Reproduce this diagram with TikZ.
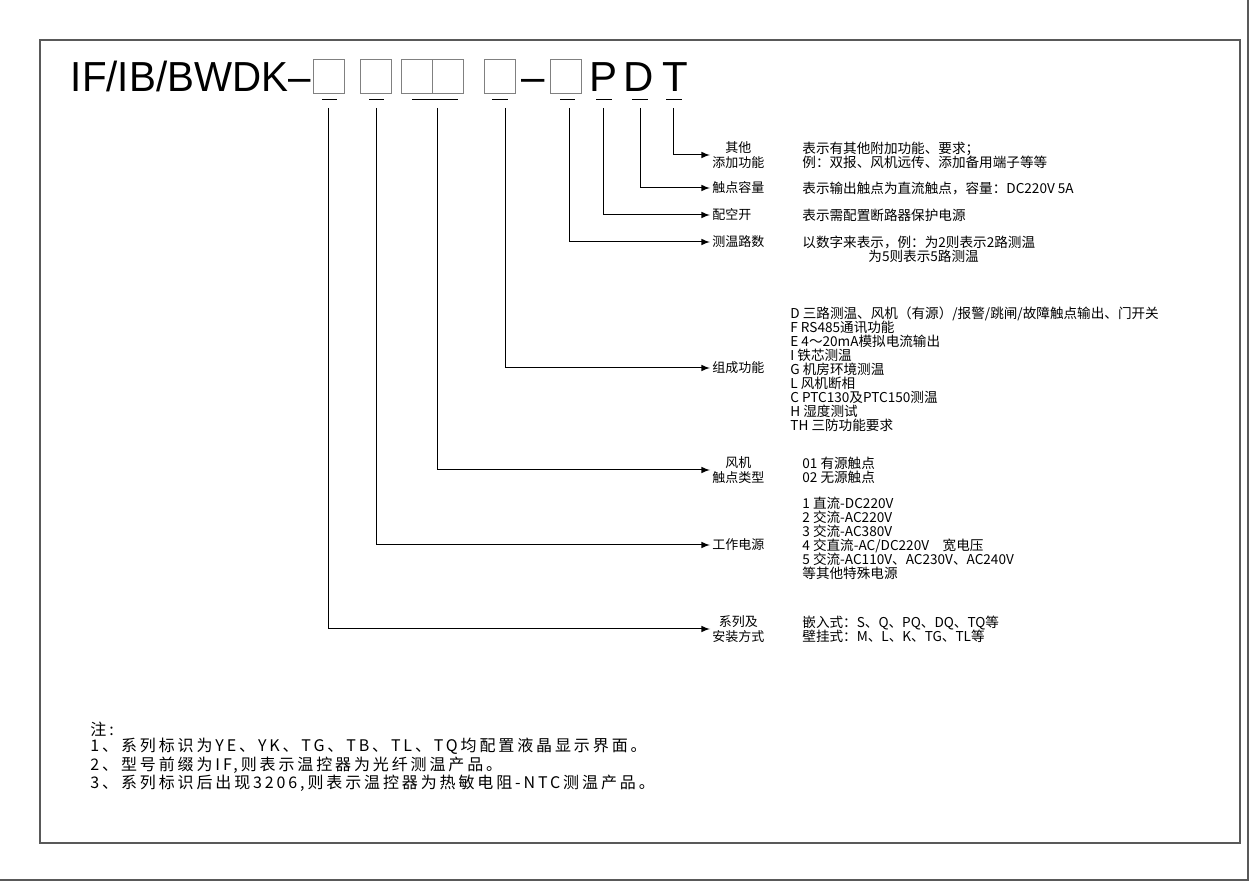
\documentclass[tikz,border=0pt]{standalone}
\usepackage{fontspec}
\setmainfont{Liberation Sans}
\newfontfamily\cjk{Noto Sans CJK SC}
\newfontfamily\cjkwide{Noto Sans CJK SC}[LetterSpace=18]
\usetikzlibrary{arrows,positioning}

\begin{document}
\begin{tikzpicture}[x=0.5pt, y=-0.5pt]
		\tikzstyle{code_box} = [rectangle, draw=gray, line width=0.5pt, minimum width=15.5pt, minimum height=17pt, inner sep=0pt, anchor=north west]
		\tikzstyle{code_char} = [inner sep=0pt, anchor=base, font=\fontsize{21}{21}\selectfont]
		\tikzstyle{field_label} = [anchor=west, inner sep=1pt, align=center, font=\cjk\fontsize{6.5}{7.2}\selectfont]
		\tikzstyle{field_text} = [anchor=west, inner sep=0pt, align=left, font=\cjk\fontsize{6.8}{7}\selectfont]
		\tikzstyle{lead} = [line width=0.5pt]
		\tikzstyle{lead_arrow} = [line width=0.5pt, -latex]
		\useasboundingbox (0,0) rectangle (1254,887);

		% Frame
		\draw[line width=0.6pt, gray!70!black] (40,40) rectangle (1240,843);
		\draw[line width=0.6pt, gray!70!black] (1248,0) -- (1248,880) -- (0,880);

		% Model code
		\node (title) [inner sep=0pt, anchor=base east, font=\fontsize{21}{21}\selectfont] at (311,92) {\scalebox{0.96}[1]{IF/IB/BWDK–}};
		\node (b1) [code_box] at (313,59) {};
		\node (b2) [code_box] at (360,59) {};
		\node (b3) [code_box] at (401,59) {};
		\node (b4) [code_box] at (432,59) {};
		\node (b5) [code_box] at (484,59) {};
		\node (dash) [code_char] at (533,92) {–};
		\node (b6) [code_box] at (550,59) {};
		\node (cP) [code_char] at (604,92) {P};
		\node (cD) [code_char] at (639,92) {D};
		\node (cT) [code_char] at (675,92) {T};

		% Ticks under the fields
		\foreach \a/\b in {322/337, 369/384, 412/458, 492/508, 560/575, 596/612, 632/648, 666/682}
		\draw[lead] (\a,100) -- (\b,100);
		\coordinate (t1) at (328,108);
		\coordinate (t2) at (376,108);
		\coordinate (t3) at (437,108);
		\coordinate (t4) at (505,108);
		\coordinate (t5) at (569,108);
		\coordinate (t6) at (603,108);
		\coordinate (t7) at (640,108);
		\coordinate (t8) at (673,108);

		% Field labels
		\node (lOther) [field_label] at (710,155) {其他\\添加功能};
		\node (lCap) [field_label] at (710,188) {触点容量};
		\node (lBrk) [field_label] at (710,215) {配空开};
		\node (lCh) [field_label] at (710,242) {测温路数};
		\node (lFun) [field_label] at (710,368) {组成功能};
		\node (lFan) [field_label] at (710,470) {风机\\触点类型};
		\node (lPow) [field_label] at (710,545) {工作电源};
		\node (lSer) [field_label] at (710,629) {系列及\\安装方式};

		% Leads
		\draw[lead_arrow] (t8) |- (lOther.west);
		\draw[lead_arrow] (t7) |- (lCap.west);
		\draw[lead_arrow] (t6) |- (lBrk.west);
		\draw[lead_arrow] (t5) |- (lCh.west);
		\draw[lead_arrow] (t4) |- (lFun.west);
		\draw[lead_arrow] (t3) |- (lFan.west);
		\draw[lead_arrow] (t2) |- (lPow.west);
		\draw[lead_arrow] (t1) |- (lSer.west);

		% Descriptions
		\node (dOther) [field_text] at (802,155) {表示有其他附加功能、要求；\\例：双报、风机远传、添加备用端子等等};
		\node (dCap) [field_text] at (802,188) {表示输出触点为直流触点，容量：DC220V 5A};
		\node (dBrk) [field_text] at (802,215) {表示需配置断路器保护电源};
		\node (dCh) [field_text] at (802,249) {以数字来表示，例：为2则表示2路测温\\\hspace*{33pt}为5则表示5路测温};
		\node (dFun) [field_text] at (790,369) {D 三路测温、风机（有源）/报警/跳闸/故障触点输出、门开关\\F RS485通讯功能\\E 4～20mA模拟电流输出\\I 铁芯测温\\G 机房环境测温\\L 风机断相\\C PTC130及PTC150测温\\H 湿度测试\\TH 三防功能要求};
		\node (dFan) [field_text] at (802,470) {01 有源触点\\02 无源触点};
		\node (dPow) [field_text] at (802,538) {1 直流-DC220V\\2 交流-AC220V\\3 交流-AC380V\\4 交直流-AC/DC220V\quad 宽电压\\5 交流-AC110V、AC230V、AC240V\\等其他特殊电源};
		\node (dSer) [field_text] at (802,629) {嵌入式：S、Q、PQ、DQ、TQ等\\壁挂式：M、L、K、TG、TL等};

		% Notes
		\node (notes) [anchor=north west, inner sep=0pt, align=left, font=\cjkwide\fontsize{8}{8}\selectfont] at (90,722) {注:\\1、系列标识为YE、YK、TG、TB、TL、TQ均配置液晶显示界面。\\2、型号前缀为IF,则表示温控器为光纤测温产品。\\3、系列标识后出现3206,则表示温控器为热敏电阻-NTC测温产品。};
	\end{tikzpicture}
\end{document}
